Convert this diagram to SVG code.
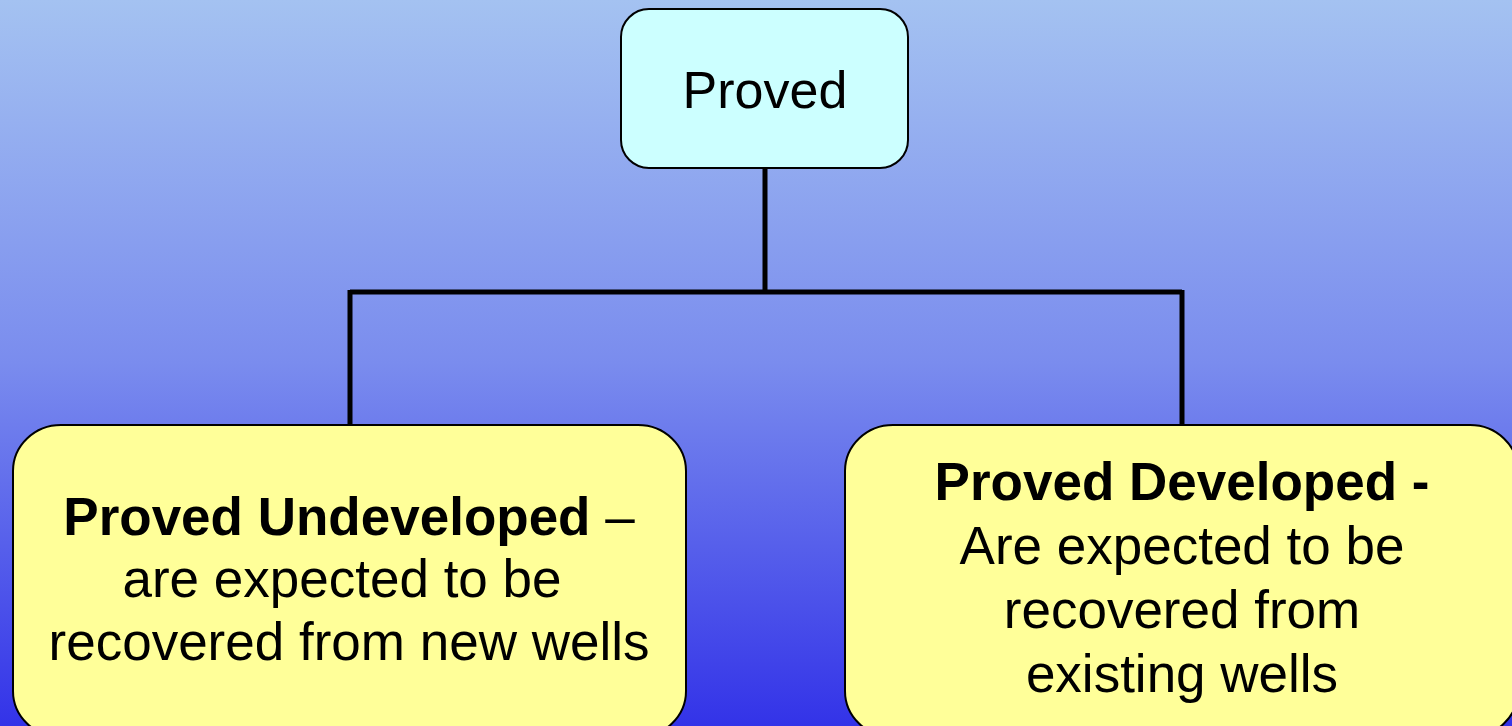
<svg xmlns="http://www.w3.org/2000/svg" width="1512" height="726" viewBox="0 0 1512 726">
<defs>
<linearGradient id="bg" x1="0" y1="0" x2="0" y2="1">
<stop offset="0" stop-color="#a4c2f1"/>
<stop offset="0.5" stop-color="#7a8cee"/>
<stop offset="1" stop-color="#3333e8"/>
</linearGradient>
<style>
.box{stroke:#000;stroke-width:2}
.top{fill:#ccffff}
.leaf{fill:#ffff99}
.t{font-family:"Liberation Sans",Arial,sans-serif;font-size:53px;fill:#000;text-anchor:middle}
.b{font-weight:bold}
.conn{fill:none;stroke:#000;stroke-width:5}
</style>
</defs>
<rect x="0" y="0" width="1512" height="726" fill="url(#bg)"/>
<g id="connectors">
<path class="conn" d="M765 168 V292 M350 292 H1182 M350 290 V425 M1182 290 V425"/>
</g>
<g id="proved">
<rect class="box top" x="621" y="9" width="287" height="159" rx="28" ry="28"/>
<text class="t" x="765" y="108" style="font-size:52px">Proved</text>
</g>
<g id="undeveloped">
<rect class="box leaf" x="13" y="425" width="673" height="312" rx="48" ry="46"/>
<text class="t" x="349" y="535"><tspan class="b">Proved Undeveloped</tspan> –</text>
<text class="t" x="342" y="597">are expected to be</text>
<text class="t" x="349" y="660">recovered from new wells</text>
</g>
<g id="developed">
<rect class="box leaf" x="845" y="425" width="673" height="312" rx="48" ry="46"/>
<text class="t b" x="1182" y="500">Proved Developed -</text>
<text class="t" x="1182" y="564">Are expected to be</text>
<text class="t" x="1182" y="628">recovered from</text>
<text class="t" x="1182" y="692">existing wells</text>
</g>
</svg>
